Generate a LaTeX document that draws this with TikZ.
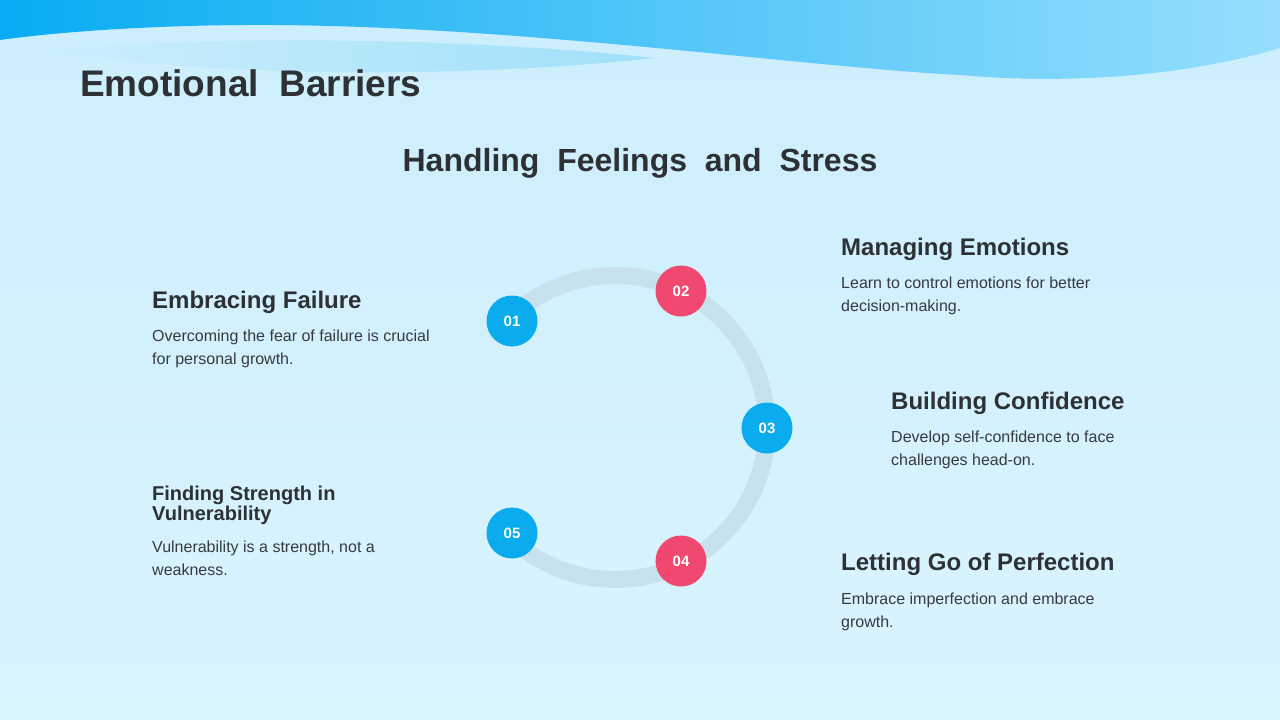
\documentclass[tikz,border=0pt]{standalone}
\usepackage{fontspec}
\setmainfont{Liberation Sans}
\definecolor{bgtop}{RGB}{204,238,252}
\definecolor{bgbot}{RGB}{218,244,254}
\definecolor{waveL}{RGB}{8,172,242}
\definecolor{waveR}{RGB}{150,222,252}
\definecolor{streak}{RGB}{160,224,250}
\definecolor{ringc}{RGB}{200,226,237}
\definecolor{nblue}{RGB}{10,172,238}
\definecolor{npink}{RGB}{240,72,110}
\definecolor{txt}{RGB}{45,48,52}
\definecolor{body}{RGB}{55,58,62}
\begin{document}
\begin{tikzpicture}[x=1pt,y=-1pt,
  num/.style={circle,minimum size=51pt,inner sep=0pt,text=white,font=\fontsize{15}{15}\selectfont\bfseries},
  bluenum/.style={num,fill=nblue},
  pinknum/.style={num,fill=npink},
  head/.style={anchor=base west,inner sep=0pt,text=txt,font=\fontsize{24}{24}\selectfont\bfseries},
  smallhead/.style={anchor=base west,inner sep=0pt,text=txt,align=left,font=\fontsize{20}{19.5}\selectfont\bfseries},
  bodytext/.style={anchor=base west,inner sep=0pt,text=body,align=left,font=\fontsize{16}{23}\selectfont},
  ring/.style={draw=ringc,line width=17pt}]
\useasboundingbox (0,0) rectangle (1280,720);
\shade[top color=bgtop,bottom color=bgbot] (0,0) rectangle (1280,720);
% top wave
\shade[left color=waveL,right color=waveR] (0,0) -- (1280,0) -- (1280,48)
  .. controls (1180,78) and (1060,84) .. (960,75)
  .. controls (820,68) and (560,32) .. (330,26)
  .. controls (200,22) and (70,30) .. (0,40) -- cycle;
\shade[left color=bgtop,right color=streak] (45,50)
  .. controls (200,36) and (450,36) .. (655,58)
  .. controls (450,80) and (200,76) .. (45,50) -- cycle;
% titles
\node[anchor=base west,inner sep=0pt,text=txt,font=\fontsize{37}{37}\selectfont\bfseries] (title) at (80,96) {Emotional\ \ Barriers};
\node[anchor=base,inner sep=0pt,text=txt,font=\fontsize{32}{32}\selectfont\bfseries] (subtitle) at (640,171.5) {Handling\ \ Feelings\ \ and\ \ Stress};
% ring
\coordinate (c) at (615,427.5);
\draw[ring] (c) ++(-135:152) arc[start angle=-135,end angle=135,radius=152];
% numbered nodes
\node[bluenum] (n1) at (512,321) {01};
\node[pinknum] (n2) at (681,291) {02};
\node[bluenum] (n3) at (767,428) {03};
\node[pinknum] (n4) at (681,561) {04};
\node[bluenum] (n5) at (512,533) {05};
% texts (multi-line nodes: base = last line)
\node[head] (h2) at (841,255.5) {Managing Emotions};
\node[bodytext] (b2) at (841,311) {Learn to control emotions for better\\decision-making.};
\node[head] (h1) at (152,308.5) {Embracing Failure};
\node[bodytext] (b1) at (152,364) {Overcoming the fear of failure is crucial\\for personal growth.};
\node[head] (h3) at (891,409.5) {Building Confidence};
\node[bodytext] (b3) at (891,465) {Develop self-confidence to face\\challenges head-on.};
\node[smallhead] (h5) at (152,520) {Finding Strength in\\Vulnerability};
\node[bodytext] (b5) at (152,575) {Vulnerability is a strength, not a\\weakness.};
\node[head] (h4) at (841,570.5) {Letting Go of Perfection};
\node[bodytext] (b4) at (841,627) {Embrace imperfection and embrace\\growth.};
\end{tikzpicture}
\end{document}
